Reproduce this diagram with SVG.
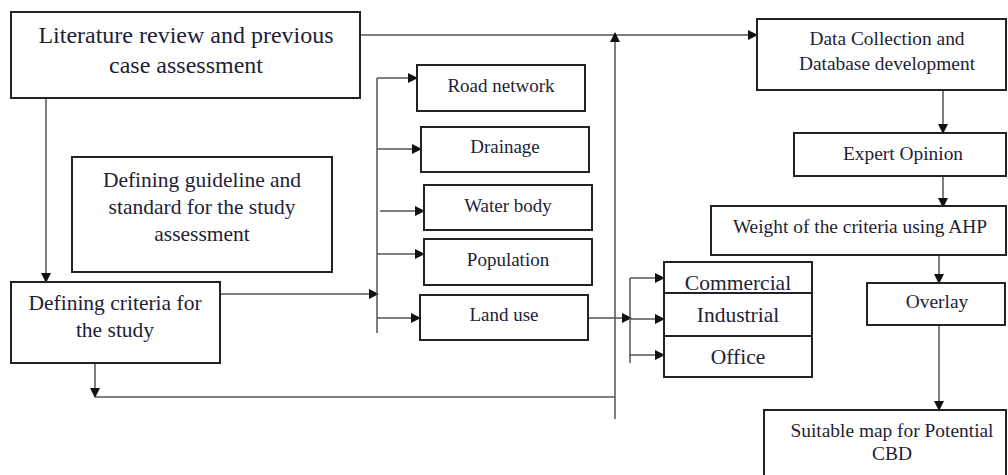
<svg xmlns="http://www.w3.org/2000/svg" width="1008" height="475" viewBox="0 0 1008 475">
<style>
.box{fill:#fff;stroke:#222;stroke-width:2}
.t{font-family:"Liberation Serif","Times New Roman",serif;fill:#1e1e36;text-anchor:middle}
.c{fill:none;stroke:#555;stroke-width:1.5}
</style>
<defs>
<marker id="ah" markerWidth="10" markerHeight="10" refX="9" refY="5" orient="auto" markerUnits="userSpaceOnUse">
<path d="M0,0 L10,5 L0,10 Z" fill="#111"/>
</marker>
</defs>
<rect width="1008" height="475" fill="#fff"/>
<g id="connectors">
<path class="c" d="M360,35 H757" marker-end="url(#ah)"/>
<path class="c" d="M615,419 V33" marker-end="url(#ah)"/>
<path class="c" d="M46,98 V282" marker-end="url(#ah)"/>
<path class="c" d="M220,294 H378" marker-end="url(#ah)"/>
<path class="c" d="M377,78 V333"/>
<path class="c" d="M377,78 H417" marker-end="url(#ah)"/>
<path class="c" d="M377,149 H421" marker-end="url(#ah)"/>
<path class="c" d="M380,211 H424" marker-end="url(#ah)"/>
<path class="c" d="M377,254 H424" marker-end="url(#ah)"/>
<path class="c" d="M377,318 H420" marker-end="url(#ah)"/>
<path class="c" d="M95,355 V397"  marker-end="url(#ah)"/>
<path class="c" d="M95,397 H615"/>
<path class="c" d="M588,318 H631" marker-end="url(#ah)"/>
<path class="c" d="M630,278 V363"/>
<path class="c" d="M630,278 H664" marker-end="url(#ah)"/>
<path class="c" d="M630,319 H664" marker-end="url(#ah)"/>
<path class="c" d="M629,355 H664" marker-end="url(#ah)"/>
<path class="c" d="M943,82 V133" marker-end="url(#ah)"/>
<path class="c" d="M943,168 V207" marker-end="url(#ah)"/>
<path class="c" d="M939,246 V283" marker-end="url(#ah)"/>
<path class="c" d="M939,318 V410" marker-end="url(#ah)"/>
</g>
<g id="literature">
<rect class="box" x="11" y="12" width="349" height="86"/>
<text class="t" x="186" y="43" font-size="24">Literature review and previous</text>
<text class="t" x="186" y="73" font-size="24">case assessment</text>
</g>
<g id="guideline">
<rect class="box" x="72" y="157" width="260" height="115"/>
<text class="t" x="202" y="187" font-size="21.5">Defining guideline and</text>
<text class="t" x="202" y="214" font-size="21.5">standard for the study</text>
<text class="t" x="202" y="241" font-size="21.5">assessment</text>
</g>
<g id="criteria">
<rect class="box" x="11" y="282" width="209" height="81"/>
<text class="t" x="115" y="310" font-size="21.5">Defining criteria for</text>
<text class="t" x="115" y="337" font-size="21.5">the study</text>
</g>
<g id="road">
<rect class="box" x="417" y="65" width="168" height="46"/>
<text class="t" x="501" y="92" font-size="19">Road network</text>
</g>
<g id="drainage">
<rect class="box" x="421" y="127" width="168" height="45"/>
<text class="t" x="505" y="153" font-size="19">Drainage</text>
</g>
<g id="water">
<rect class="box" x="424" y="185" width="168" height="45"/>
<text class="t" x="508" y="212" font-size="19">Water body</text>
</g>
<g id="population">
<rect class="box" x="424" y="239" width="168" height="46"/>
<text class="t" x="508" y="266" font-size="19">Population</text>
</g>
<g id="landuse">
<rect class="box" x="420" y="295" width="168" height="45"/>
<text class="t" x="504" y="321" font-size="19">Land use</text>
</g>
<g id="commercial">
<rect class="box" x="664" y="262" width="148" height="38"/>
<text class="t" x="738" y="290" font-size="21.5">Commercial</text>
</g>
<g id="industrial">
<rect class="box" x="664" y="293" width="148" height="43"/>
<text class="t" x="738" y="322" font-size="21.5">Industrial</text>
</g>
<g id="office">
<rect class="box" x="664" y="336" width="148" height="41"/>
<text class="t" x="738" y="364" font-size="21.5">Office</text>
</g>
<g id="data">
<rect class="box" x="757" y="19" width="249" height="71"/>
<text class="t" x="887" y="45" font-size="19.4">Data Collection and</text>
<text class="t" x="887" y="70" font-size="19.4">Database development</text>
</g>
<g id="expert">
<rect class="box" x="794" y="133" width="212" height="43"/>
<text class="t" x="903" y="160" font-size="19.4">Expert Opinion</text>
</g>
<g id="weight">
<rect class="box" x="711" y="206" width="295" height="49"/>
<text class="t" x="860" y="233" font-size="19.4">Weight of the criteria using AHP</text>
</g>
<g id="overlay">
<rect class="box" x="867" y="283" width="138" height="42"/>
<text class="t" x="937" y="308" font-size="19.4">Overlay</text>
</g>
<g id="suitable">
<rect class="box" x="764" y="410" width="242" height="70"/>
<text class="t" x="892" y="437" font-size="19.4">Suitable map for Potential</text>
<text class="t" x="892" y="460" font-size="19.4">CBD</text>
</g>
</svg>
